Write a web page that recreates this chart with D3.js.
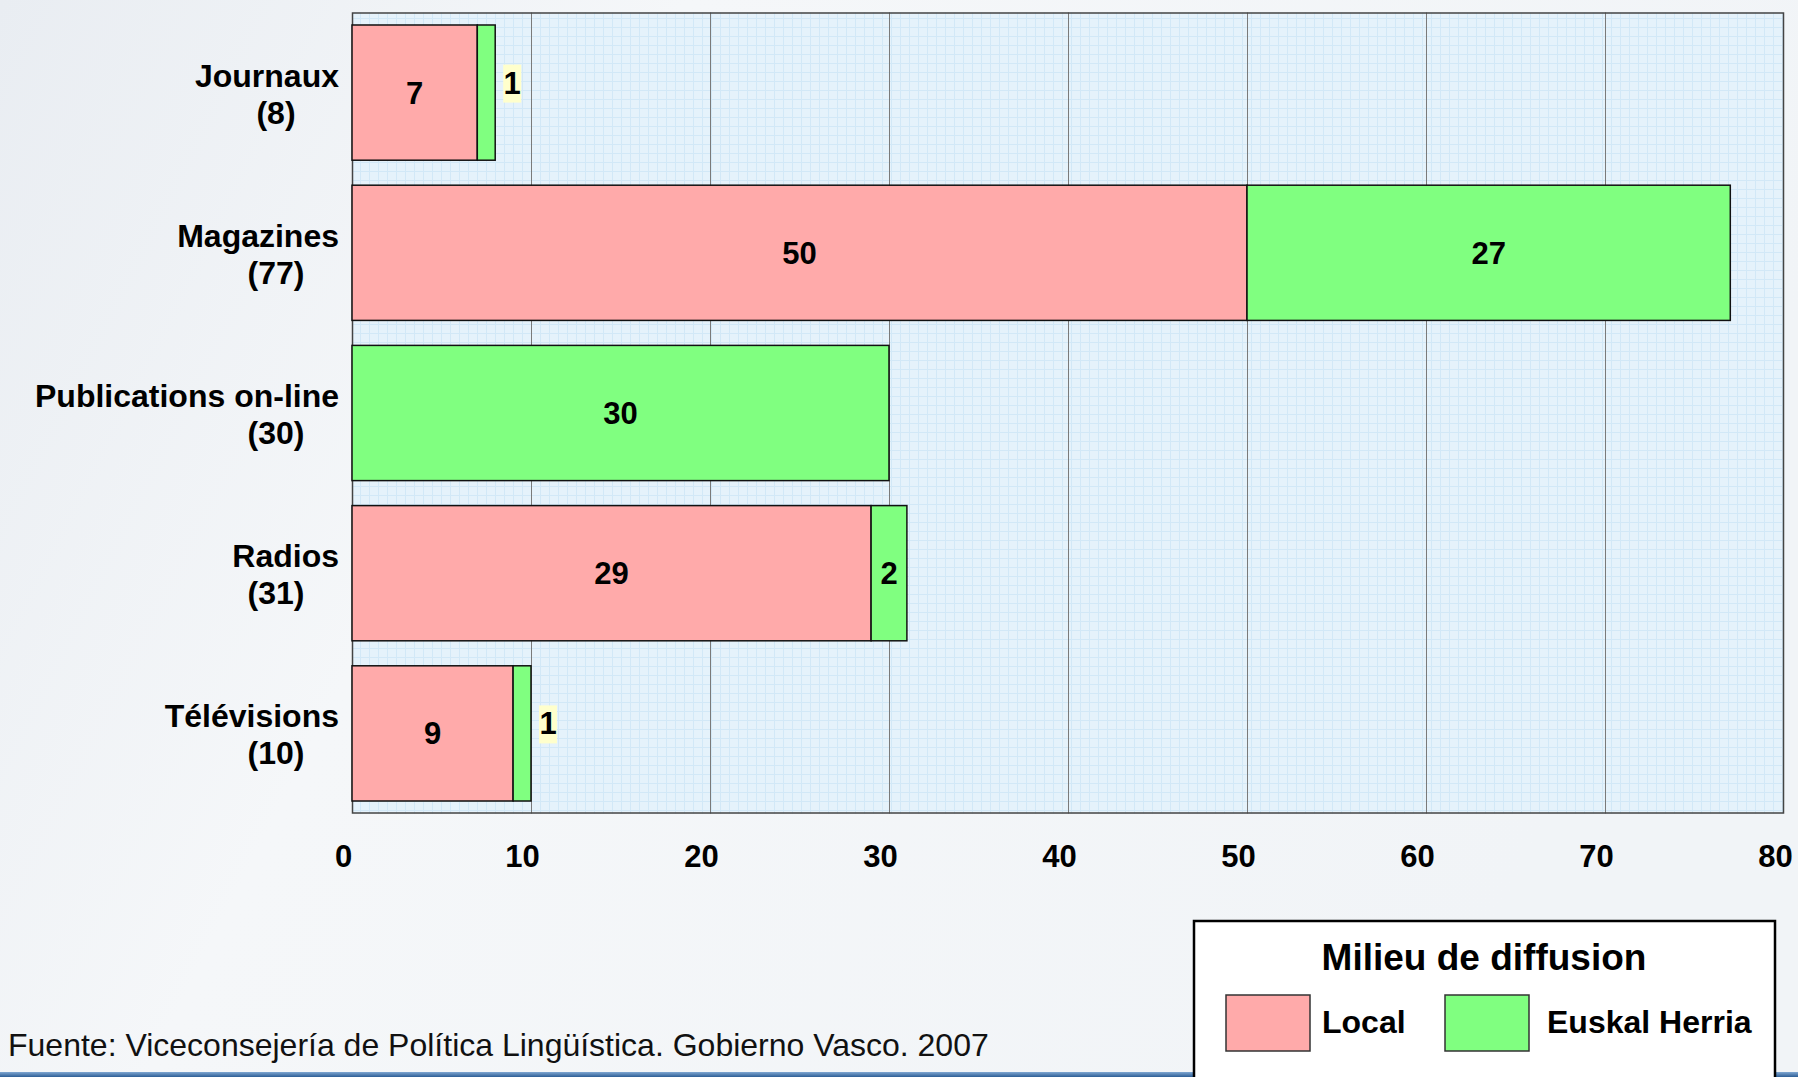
<!DOCTYPE html>
<html><head><meta charset="utf-8">
<script src="https://cdn.jsdelivr.net/npm/d3@7"></script>
<style>body{margin:0;background:#f3f5f8;overflow:hidden;} svg{display:block;}</style>
</head><body><svg id="c" width="1798" height="1077"></svg>
<script>
// ---- data ----
const categories = ["Journaux", "Magazines", "Publications on-line", "Radios", "Télévisions"];
const localValues = [7, 50, 0, 29, 9];
const euskalValues = [1, 27, 30, 2, 1];
const seriesNames = ["Local", "Euskal Herria"];
const seriesColors = ["#ffaaaa", "#80ff80"];
const xTicks = [0, 10, 20, 30, 40, 50, 60, 70, 80];
const legendTitle = "Milieu de diffusion";
const sourceText = "Fuente: Viceconsejería de Política Lingüística. Gobierno Vasco. 2007";

// ---- build ----
const W = 1798, H = 1077;
const svg = d3.select("#c");
const defs = svg.append("defs");
const FONT = "'Liberation Sans', Arial, Helvetica, sans-serif";

const bg = defs.append("linearGradient").attr("id", "bg").attr("x1", 0).attr("y1", 0).attr("x2", 1).attr("y2", 0.3);
bg.append("stop").attr("offset", 0).attr("stop-color", "#e9edf2");
bg.append("stop").attr("offset", 0.35).attr("stop-color", "#f5f7f9");
bg.append("stop").attr("offset", 1).attr("stop-color", "#f1f4f7");
svg.append("rect").attr("width", W).attr("height", H).attr("fill", "url(#bg)");

const stripe = defs.append("linearGradient").attr("id", "stripe").attr("x1", 0).attr("y1", 0).attr("x2", 0).attr("y2", 1);
stripe.append("stop").attr("offset", 0).attr("stop-color", "#7fa7d2");
stripe.append("stop").attr("offset", 1).attr("stop-color", "#2d5e96");
svg.append("rect").attr("x", 0).attr("y", 1072).attr("width", W).attr("height", 5).attr("fill", "url(#stripe)");

const pat = defs.append("pattern").attr("id", "grid").attr("patternUnits", "userSpaceOnUse")
  .attr("width", 9).attr("height", 9);
pat.append("rect").attr("width", 9).attr("height", 9).attr("fill", "#e5f2fb");
pat.append("path").attr("d", "M0,0.5H9M0.5,0V9").attr("stroke", "#d2e8f7").attr("stroke-width", 1);

const m = {left: 352, right: 1784, top: 12.5, bottom: 813.5};
const x = d3.scaleLinear().domain([0, 80]).range([m.left, m.right]);
const y = d3.scaleBand().domain(categories).range([m.top, m.bottom]).paddingInner(0.156).paddingOuter(0.078);

// plot area
svg.append("rect").attr("x", m.left).attr("y", m.top).attr("width", m.right - m.left)
  .attr("height", m.bottom - m.top).attr("fill", "url(#grid)");

// gridlines
svg.append("g").selectAll("line").data(xTicks.filter(t => t > 0 && t < 80)).join("line")
  .attr("x1", d => Math.round(x(d)) + 0.5).attr("x2", d => Math.round(x(d)) + 0.5)
  .attr("y1", m.top).attr("y2", m.bottom)
  .attr("stroke", "#7a7a7a").attr("stroke-width", 1);

svg.append("rect").attr("x", m.left + 0.5).attr("y", m.top + 0.5).attr("width", m.right - m.left - 1)
  .attr("height", m.bottom - m.top - 1).attr("fill", "none").attr("stroke", "#444").attr("stroke-width", 1.5);

// stacked bars
const rows = categories.map((c, i) => ({cat: c, Local: localValues[i], "Euskal Herria": euskalValues[i]}));
const stacked = d3.stack().keys(seriesNames)(rows);

const gBars = svg.append("g");
stacked.forEach((s, si) => {
  gBars.append("g").selectAll("rect").data(s.filter(d => d[1] - d[0] > 0)).join("rect")
    .attr("x", d => x(d[0])).attr("y", d => y(d.data.cat))
    .attr("width", d => x(d[1]) - x(d[0])).attr("height", y.bandwidth())
    .attr("fill", seriesColors[si]).attr("stroke", "#111").attr("stroke-width", 1.5);
});

// value labels
const gLab = svg.append("g").attr("font-family", FONT).attr("font-weight", "bold").attr("font-size", 31);
stacked.forEach((s, si) => {
  s.forEach(d => {
    const v = d[1] - d[0];
    if (v <= 0) return;
    const w = x(d[1]) - x(d[0]);
    const cy = y(d.data.cat) + y.bandwidth() / 2;
    if (w < 25) {
      const cx = x(d[1]) + 17;
      gLab.append("rect").attr("x", cx - 9).attr("y", cy - 28).attr("width", 18).attr("height", 38).attr("fill", "#ffffcc");
      gLab.append("text").attr("x", cx).attr("y", cy + 1).attr("text-anchor", "middle").text(v);
    } else {
      const cx = (x(d[0]) + x(d[1])) / 2;
      gLab.append("text").attr("x", cx).attr("y", cy + 11).attr("text-anchor", "middle").text(v);
    }
  });
});

// category labels
const gCat = svg.append("g").attr("font-family", FONT).attr("font-weight", "bold").attr("font-size", 32).attr("fill", "#000");
categories.forEach((c, i) => {
  const cy = y(c) + y.bandwidth() / 2;
  gCat.append("text").attr("x", 339).attr("y", cy - 6).attr("text-anchor", "end").text(c);
  gCat.append("text").attr("x", 276).attr("y", cy + 31).attr("text-anchor", "middle")
    .text("(" + (localValues[i] + euskalValues[i]) + ")");
});

// x axis
const xAxis = svg.append("g").attr("transform", `translate(0,${m.bottom})`)
  .call(d3.axisBottom(x).tickValues(xTicks).tickSize(0).tickPadding(0));
xAxis.select(".domain").remove();
xAxis.selectAll("text").attr("font-family", FONT).attr("font-weight", "bold").attr("font-size", 31)
  .attr("fill", "#000").attr("dy", 0).attr("y", 53).attr("dx", -9);

// source
svg.append("text").attr("x", 8).attr("y", 1056).attr("font-family", FONT).attr("font-size", 32)
  .attr("fill", "#111").text(sourceText);

// legend
const lg = svg.append("g");
lg.append("rect").attr("x", 1194).attr("y", 921).attr("width", 581).attr("height", 170)
  .attr("fill", "#fff").attr("stroke", "#000").attr("stroke-width", 2.5);
lg.append("text").attr("x", 1484).attr("y", 970).attr("text-anchor", "middle")
  .attr("font-family", FONT).attr("font-weight", "bold").attr("font-size", 37).text(legendTitle);
const legX = [1226, 1445];
const legTextX = [1322, 1547];
seriesNames.forEach((n, i) => {
  lg.append("rect").attr("x", legX[i]).attr("y", 995).attr("width", 84).attr("height", 56)
    .attr("fill", seriesColors[i]).attr("stroke", "#333").attr("stroke-width", 1.5);
  lg.append("text").attr("x", legTextX[i]).attr("y", 1033).attr("font-family", FONT)
    .attr("font-weight", "bold").attr("font-size", 32).text(n);
});
</script></body></html>
